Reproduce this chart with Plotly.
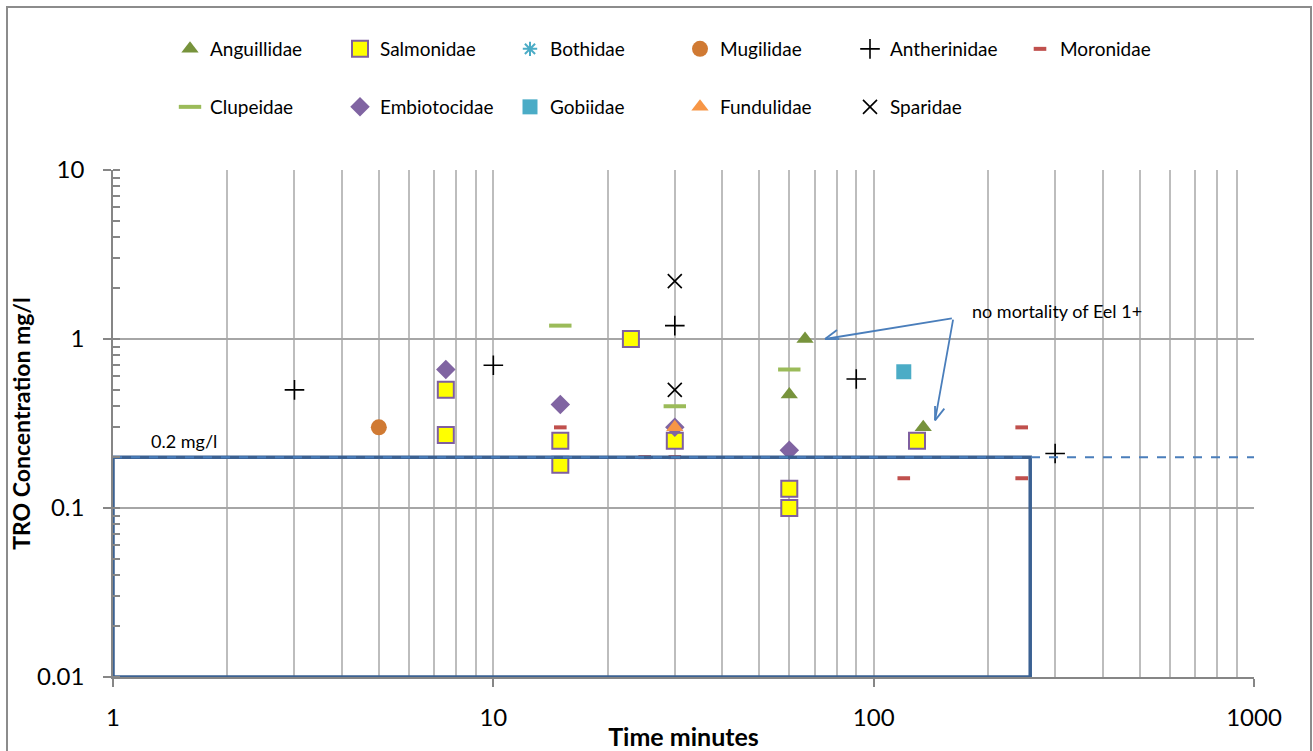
import numpy as np
import plotly.graph_objects as go

# ---- data ----
anguillidae_t = [66, 60, 135]
anguillidae_c = [1.0, 0.47, 0.30]
salmonidae_t = [7.5, 7.5, 15, 15, 23, 30, 60, 60, 130]
salmonidae_c = [0.5, 0.27, 0.25, 0.18, 1.0, 0.25, 0.13, 0.10, 0.25]
bothidae_t = [5]
bothidae_c = [0.3]
mugilidae_t = [5]
mugilidae_c = [0.3]
antherinidae_t = [3, 10, 30, 90, 300]
antherinidae_c = [0.5, 0.7, 1.2, 0.58, 0.21]
moronidae_t = [15, 25, 30, 120, 245, 245]
moronidae_c = [0.3, 0.2, 0.2, 0.15, 0.3, 0.15]
clupeidae_t = [15, 30, 60]
clupeidae_c = [1.2, 0.4, 0.66]
embiotocidae_t = [7.5, 15, 30, 60]
embiotocidae_c = [0.66, 0.41, 0.3, 0.22]
gobiidae_t = [120]
gobiidae_c = [0.64]
fundulidae_t = [30]
fundulidae_c = [0.3]
sparidae_t = [30, 30]
sparidae_c = [2.2, 0.5]

box_t = [1, 258, 258, 1, 1]
box_c = [0.2, 0.2, 0.01, 0.01, 0.2]
limit_t = [1, 1000]
limit_c = [0.2, 0.2]

# annotation arrow (tail shared, two tips) in data units
arrow_tail = (162, 1.33)
arrow_tips = [(74.5, 1.0), (145, 0.33)]

FONT = "Lato"

series = [
    ("Anguillidae", anguillidae_t, anguillidae_c, dict(symbol="triangle-up", size=15, color="#77933C"), "legend"),
    ("Salmonidae", salmonidae_t, salmonidae_c, dict(symbol="square", size=16, color="#FFFF00", line=dict(color="#7F5FA0", width=2)), "legend"),
    ("Bothidae", bothidae_t, bothidae_c, dict(symbol="asterisk-open", size=12, color="#4BACC6", line=dict(color="#4BACC6", width=2)), "legend"),
    ("Mugilidae", mugilidae_t, mugilidae_c, dict(symbol="circle", size=16, color="#D07A33"), "legend"),
    ("Antherinidae", antherinidae_t, antherinidae_c, dict(symbol="cross-thin-open", size=14, color="black", line=dict(color="black", width=1.6)), "legend"),
    ("Moronidae", moronidae_t, moronidae_c, dict(symbol="line-ew-open", size=9, color="#C0504D", line=dict(color="#C0504D", width=4)), "legend"),
    ("Clupeidae", clupeidae_t, clupeidae_c, dict(symbol="line-ew-open", size=16, color="#9BBB59", line=dict(color="#9BBB59", width=4)), "legend2"),
    ("Embiotocidae", embiotocidae_t, embiotocidae_c, dict(symbol="diamond", size=15, color="#8064A2"), "legend2"),
    ("Gobiidae", gobiidae_t, gobiidae_c, dict(symbol="square", size=15, color="#4BACC6"), "legend2"),
    ("Fundulidae", fundulidae_t, fundulidae_c, dict(symbol="triangle-up", size=15, color="#F79646"), "legend2"),
    ("Sparidae", sparidae_t, sparidae_c, dict(symbol="x-thin-open", size=14, color="black", line=dict(color="black", width=1.6)), "legend2"),
]

fig = go.Figure()
for name, t, c, mk, lg in series:
    fig.add_trace(go.Scatter(x=t, y=c, mode="markers", name=name, marker=mk,
                             legend=lg, cliponaxis=False))

fig.add_trace(go.Scatter(x=box_t, y=box_c, mode="lines", showlegend=False,
                         line=dict(color="#3B6192", width=3.5), hoverinfo="skip"))
fig.add_trace(go.Scatter(x=limit_t, y=limit_c, mode="lines", showlegend=False,
                         line=dict(color="#4A7EBB", width=2, dash="dash"), hoverinfo="skip"))

W, H = 1313, 751
L, R, T, B = 113, 1254, 170, 677
pw, ph = R - L, B - T

def px(xp):
    return (xp - L) / pw

def py(yp):
    return (B - yp) / ph

LEG_FONT = 19
fig.update_layout(
    width=W, height=H,
    margin=dict(l=L, r=W - R, t=T, b=H - B),
    paper_bgcolor="white", plot_bgcolor="white",
    font=dict(family=FONT, color="black"),
    legend=dict(orientation="h", x=px(170), y=py(30), xanchor="left", yanchor="top",
                entrywidth=125, entrywidthmode="pixels", font=dict(size=LEG_FONT, family=FONT),
                itemwidth=30, bgcolor="rgba(0,0,0,0)"),
    legend2=dict(orientation="h", x=px(170), y=py(88), xanchor="left", yanchor="top",
                 entrywidth=125, entrywidthmode="pixels", font=dict(size=LEG_FONT, family=FONT),
                 itemwidth=30, bgcolor="rgba(0,0,0,0)"),
    showlegend=True,
)

fig.update_xaxes(
    type="log", range=[0, 3], automargin=False,
    tickvals=[1, 10, 100, 1000], ticktext=["1", "10", "100", "1000"],
    ticks="outside", ticklen=8, tickcolor="#868686", tickwidth=1.5,
    showline=True, linecolor="#868686", linewidth=1.5, mirror=False,
    showgrid=True, gridcolor="#BDBDBD", gridwidth=1.5,
    minor=dict(showgrid=True, gridcolor="#BDBDBD", gridwidth=1.5, ticks="", dtick="D1"),
    tickfont=dict(size=24, family=FONT), ticklabelstandoff=10,
    title=dict(text="<b>Time minutes</b>", font=dict(size=25, family=FONT), standoff=0),
    zeroline=False,
)
fig.update_yaxes(
    type="log", range=[-2, 1], automargin=False,
    tickvals=[0.01, 0.1, 1, 10], ticktext=["0.01", "0.1", "1", "10"],
    ticks="outside", ticklen=8, tickcolor="#868686", tickwidth=1.5,
    showline=True, linecolor="#868686", linewidth=1.5,
    showgrid=True, gridcolor="#A6A6A6", gridwidth=1.5,
    minor=dict(showgrid=False, ticks="inside", ticklen=7, tickcolor="#868686", tickwidth=1.5, dtick="D1"),
    tickfont=dict(size=24, family=FONT), ticklabelstandoff=14,
    title=dict(text="<b>TRO Concentration mg/l</b>", font=dict(size=23, family=FONT), standoff=0),
    zeroline=False,
)

# outer chart border
fig.add_shape(type="rect", xref="paper", yref="paper",
              x0=px(7), x1=px(1311), y0=py(755), y1=py(7),
              line=dict(color="#8C8C8C", width=2), layer="below")

# annotations
fig.add_annotation(x=np.log10(1.24), y=np.log10(0.2), xref="x", yref="y",
                   text="0.2 mg/l", showarrow=False, xanchor="left", yanchor="bottom",
                   yshift=3, font=dict(size=18, family=FONT))
fig.add_annotation(x=np.log10(179), y=np.log10(1.47), xref="x", yref="y",
                   text="no mortality of Eel 1+", showarrow=False, xanchor="left",
                   yanchor="middle", font=dict(size=18, family=FONT))

ARROW_COLOR = "#4A7EBB"
XDEC, YDEC = pw / 3.0, ph / 3.0  # pixels per decade


def to_px(t, c):
    return np.log10(t) * XDEC, np.log10(c) * YDEC  # y up


tx, ty = to_px(*arrow_tail)
for tip_t, tip_c in arrow_tips:
    fig.add_annotation(x=np.log10(tip_t), y=np.log10(tip_c), xref="x", yref="y",
                       ax=np.log10(arrow_tail[0]), ay=np.log10(arrow_tail[1]),
                       axref="x", ayref="y", text="", showarrow=True, arrowhead=0,
                       arrowwidth=1.8, arrowcolor=ARROW_COLOR)
    hx, hy = to_px(tip_t, tip_c)
    d = np.array([tx - hx, ty - hy])
    d = d / np.linalg.norm(d)
    for ang in (np.radians(28), -np.radians(28)):
        rot = np.array([[np.cos(ang), -np.sin(ang)], [np.sin(ang), np.cos(ang)]])
        b = rot @ d * 15
        fig.add_shape(type="line", xref="x", yref="y",
                      xsizemode="pixel", ysizemode="pixel",
                      xanchor=float(tip_t), yanchor=float(tip_c),
                      x0=0, y0=0, x1=float(b[0]), y1=float(b[1]),
                      line=dict(color=ARROW_COLOR, width=1.8))

fig.write_html("out.html")
